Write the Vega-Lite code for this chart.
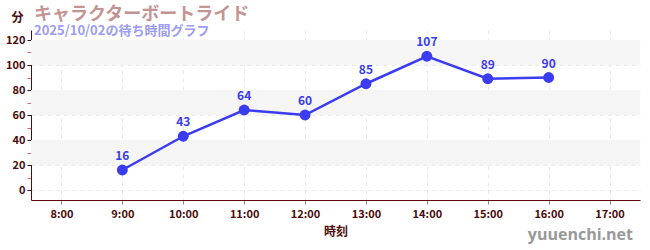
{
  "$schema": "https://vega.github.io/schema/vega-lite/v6.json",
  "width": 609,
  "height": 170,
  "autosize": {"type": "none"},
  "padding": {"left": 31, "top": 30, "right": 10, "bottom": 50},
  "background": "white",
  "config": {
    "font": "Noto Sans CJK JP",
    "view": {"stroke": null},
    "axis": {"labelOverlap": false}
  },
  "title": {
    "text": "キャラクターボートライド",
    "subtitle": "2025/10/02の待ち時間グラフ",
    "anchor": "start",
    "frame": "group",
    "dx": 3,
    "offset": -27,
    "fontSize": 18,
    "fontWeight": "bold",
    "color": "#c49494",
    "subtitleFontSize": 13,
    "subtitleFontWeight": "bold",
    "subtitleColor": "#9c9cf2",
    "subtitlePadding": 1
  },
  "datasets": {
    "waits": [
      {"hour": 9, "wait": 16},
      {"hour": 10, "wait": 43},
      {"hour": 11, "wait": 64},
      {"hour": 12, "wait": 60},
      {"hour": 13, "wait": 85},
      {"hour": 14, "wait": 107},
      {"hour": 15, "wait": 89},
      {"hour": 16, "wait": 90}
    ],
    "bands": [
      {"lo": 20, "hi": 40},
      {"lo": 60, "hi": 80},
      {"lo": 100, "hi": 120}
    ]
  },
  "layer": [
    {
      "data": {"name": "bands"},
      "mark": {"type": "rect", "color": "#f5f5f5"},
      "encoding": {
        "x": {
          "datum": 7.5,
          "type": "quantitative",
          "scale": {"domain": [7.5, 17.5], "nice": false, "zero": false},
          "axis": {
            "values": [8, 9, 10, 11, 12, 13, 14, 15, 16, 17],
            "tickCount": 20,
            "labelExpr": "datum.value + ':00'",
            "labelOverlap": false,
            "title": "時刻",
            "titleFontSize": 12,
            "titleFontWeight": "bold",
            "titleColor": "#4a0a0a",
            "titlePadding": 7,
            "labelFontSize": 11,
            "labelFontWeight": "bold",
            "labelColor": "#4a0a0a",
            "labelPadding": 4,
            "domainColor": "#5a0a0a",
            "tickColor": "#888888",
            "tickSize": 4,
            "grid": true,
            "gridDash": [4, 4],
            "gridColor": "#e8e8e8"
          }
        },
        "x2": {"datum": 17.5},
        "y": {
          "field": "lo",
          "type": "quantitative",
          "scale": {"domain": [-8, 128], "nice": false, "zero": false},
          "axis": {
            "values": [0, 10, 20, 30, 40, 50, 60, 70, 80, 90, 100, 110, 120],
            "tickCount": 20,
            "labelExpr": "datum.value % 20 == 0 ? datum.label : ''",
            "labelOverlap": false,
            "title": "分",
            "titleAngle": 0,
            "titleX": -14,
            "titleY": -13,
            "titleAlign": "center",
            "titleBaseline": "middle",
            "titleFontSize": 12,
            "titleFontWeight": "bold",
            "titleColor": "#4a0a0a",
            "labelFontSize": 11,
            "labelFontWeight": "bold",
            "labelColor": "#4a0a0a",
            "labelPadding": 2,
            "domainColor": "#5a0a0a",
            "tickSize": 4,
            "tickColor": {"condition": {"test": "datum.value % 20 == 0", "value": "#4a0a0a"}, "value": "#ee6666"},
            "grid": true,
            "gridDash": [4, 4],
            "gridColor": "#e8e8e8",
            "gridOpacity": {"condition": {"test": "datum.value % 20 == 0", "value": 1}, "value": 0}
          }
        },
        "y2": {"field": "hi"}
      }
    },
    {
      "data": {"name": "waits"},
      "mark": {"type": "line", "color": "#3b3bef", "strokeWidth": 2.5},
      "encoding": {
        "x": {"field": "hour", "type": "quantitative"},
        "y": {"field": "wait", "type": "quantitative"}
      }
    },
    {
      "data": {"name": "waits"},
      "mark": {"type": "point", "filled": true, "size": 120, "opacity": 1, "color": "#3b3bef"},
      "encoding": {
        "x": {"field": "hour", "type": "quantitative"},
        "y": {"field": "wait", "type": "quantitative"}
      }
    },
    {
      "data": {"name": "waits"},
      "mark": {"type": "text", "dy": -14, "fontSize": 12, "fontWeight": "bold", "color": "#3b3bef"},
      "encoding": {
        "x": {"field": "hour", "type": "quantitative"},
        "y": {"field": "wait", "type": "quantitative"},
        "text": {"field": "wait", "type": "quantitative"}
      }
    },
    {
      "data": {"values": [{"site": "yuuenchi.net"}]},
      "mark": {"type": "text", "align": "right", "baseline": "middle", "dy": 35, "dx": -7, "fontSize": 16, "font": "Open Sans", "fontWeight": "bold", "color": "#999999", "clip": false},
      "encoding": {
        "x": {"datum": 17.5, "type": "quantitative"},
        "y": {"datum": -8, "type": "quantitative"},
        "text": {"field": "site"}
      }
    }
  ]
}
